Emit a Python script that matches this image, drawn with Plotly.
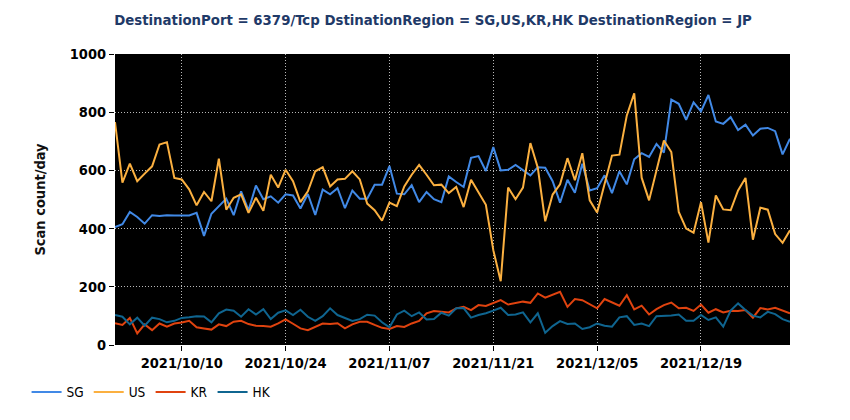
import plotly.graph_objects as go
import pandas as pd

dates = pd.date_range("2021-10-01", "2021-12-31", freq="D")

sg = [405, 415, 457, 440, 417, 446, 443, 446, 445, 446, 445, 454, 375, 451, 477, 503, 446, 528, 463,
      548, 501, 511, 489, 518, 514, 469, 519, 447, 534, 518, 539, 470, 531, 503, 503, 551, 551,
      615, 520, 518, 549, 491, 526, 501, 491, 579, 560, 543, 643, 649, 598, 680, 600, 602, 619,
      600, 583, 611, 609, 563, 489, 568, 523, 623, 531, 539, 583, 522, 597, 552, 638, 659, 646,
      691, 661, 843, 829, 774, 834, 803, 859, 768, 760, 783, 739, 757, 720, 743, 746, 735, 655, 709]

us = [766, 558, 623, 563, 589, 614, 689, 697, 574, 569, 535, 480, 526, 494, 640, 465, 506, 518, 454,
      506, 461, 585, 541, 602, 563, 491, 528, 597, 611, 545, 569, 571, 597, 569, 486, 463, 427,
      489, 477, 545, 585, 619, 585, 549, 551, 522, 543, 474, 568, 523, 482, 326, 219, 541, 501,
      541, 694, 609, 425, 517, 552, 642, 566, 659, 497, 455, 552, 651, 654, 789, 865, 575, 497,
      600, 703, 663, 457, 400, 386, 491, 352, 514, 466, 463, 531, 574, 362, 472, 465, 381, 351, 394]

kr = [75, 69, 93, 40, 71, 51, 74, 63, 74, 77, 83, 61, 57, 53, 71, 65, 80, 83, 72,
      66, 65, 63, 74, 88, 73, 57, 51, 63, 74, 72, 75, 57, 71, 80, 80, 69, 59,
      55, 65, 62, 74, 83, 109, 117, 114, 112, 126, 131, 120, 137, 134, 143, 154, 139, 145,
      149, 145, 177, 163, 174, 183, 131, 158, 154, 139, 126, 158, 146, 135, 171, 122, 135, 105,
      123, 137, 146, 126, 128, 117, 139, 111, 123, 112, 118, 117, 120, 94, 127, 122, 128, 118, 109]

hk = [103, 97, 71, 94, 66, 94, 89, 78, 83, 93, 95, 99, 98, 78, 109, 122, 118, 97, 123,
      105, 123, 89, 111, 119, 103, 121, 97, 83, 99, 126, 103, 94, 83, 89, 104, 101, 78,
      61, 105, 118, 99, 112, 88, 89, 111, 101, 126, 127, 94, 103, 109, 118, 128, 103, 105,
      112, 78, 109, 42, 65, 82, 72, 74, 55, 61, 74, 66, 63, 95, 99, 69, 74, 65,
      99, 99, 101, 105, 83, 83, 103, 86, 95, 63, 118, 143, 120, 101, 95, 114, 106, 89, 80]

series = [("SG", sg, "#4189e6"), ("US", us, "#fbb040"), ("KR", kr, "#e0430f"), ("HK", hk, "#0f6590")]

FONT = "'DejaVu Sans Condensed', 'DejaVu Sans', sans-serif"

fig = go.Figure()
for name, vals, col in series:
    fig.add_trace(go.Scatter(x=dates, y=vals, name=name, mode="lines",
                             line=dict(color=col, width=2)))

fig.update_layout(
    width=850, height=420,
    margin=dict(l=107, r=68, t=46, b=83),
    paper_bgcolor="white", plot_bgcolor="black",
    font=dict(family=FONT, size=13, color="black"),
    title=dict(text="<b>DestinationPort = 6379/Tcp DstinationRegion = SG,US,KR,HK DestinationRegion = JP</b>",
               x=0.5, xanchor="center", y=0.971, yanchor="middle",
               font=dict(family=FONT, size=14.8, color="#1f3a68")),
    showlegend=True,
    legend=dict(orientation="h", x=-0.131, xanchor="left", y=-0.109, yanchor="top",
                font=dict(family=FONT, size=13.5, color="black"), itemwidth=30,
                bgcolor="rgba(0,0,0,0)"),
    xaxis=dict(range=[dates[0], dates[-1]], tick0="2021-10-10", dtick=14 * 86400000,
               tickformat="%Y/%m/%d", showgrid=True, gridcolor="#b8b8b8", griddash="1px,2px",
               gridwidth=1, ticks="outside", ticklen=5, tickcolor="black",
               tickfont=dict(family=FONT, size=14.5, color="black", weight="bold"),
               zeroline=False, showline=False),
    yaxis=dict(range=[0, 1000], dtick=200, showgrid=True, gridcolor="#b8b8b8", griddash="1px,2px",
               gridwidth=1, ticks="outside", ticklen=5, tickcolor="black",
               tickfont=dict(family=FONT, size=14.5, color="black", weight="bold"),
               title=dict(text="<b>Scan count/day</b>", font=dict(family=FONT, size=14.5, color="#111111"),
                          standoff=20),
               zeroline=False, showline=False),
)

fig.write_html("out.html")
